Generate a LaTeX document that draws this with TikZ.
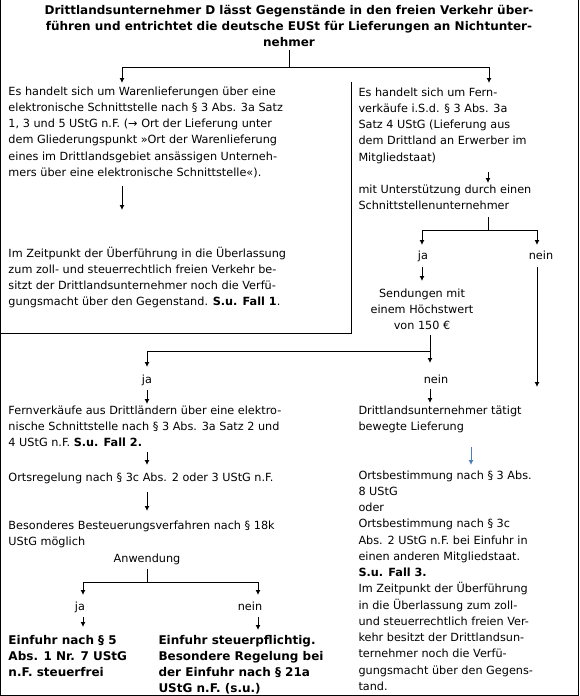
\documentclass[tikz,border=0pt]{standalone}
\usepackage{fontspec}
\setmainfont{DejaVu Sans}
\usepackage{xcolor}
\usetikzlibrary{arrows.meta}
\definecolor{tipblue}{RGB}{74,126,187}

\begin{document}
\begin{tikzpicture}[x=1pt,y=-1pt,line width=1pt,
  txt/.style={inner sep=0pt,align=left,anchor=base west,font=\fontsize{11.25}{16.25}\selectfont},
  bld/.style={txt,font=\fontsize{12}{16.25}\selectfont\bfseries},
  mid/.style={txt,align=center,anchor=base},
  arr/.style={-{Latex[length=5pt,width=5pt]}}]
\useasboundingbox (0,0) rectangle (579,696);

% frame
\draw (0.5,0) -- (0.5,695.5) -- (578.5,695.5) -- (578.5,0);
\draw (0.5,333.5) -- (351.5,333.5) -- (351.5,82);

% nodes sit on the baseline of their last line
\node[bld,align=center,anchor=base,inner ysep=3pt] (title) at (289,46.5)
  {Drittlandsunternehmer D lässt Gegenstände in den freien Verkehr über-\\
   führen und entrichtet die deutsche EUSt für Lieferungen an Nichtunter-\\
   nehmer};

% left column
\node[txt] (waren) at (8,176.25)
  {Es handelt sich um Warenlieferungen über eine\\
   elektronische Schnittstelle nach § 3 Abs. 3a Satz\\
   1, 3 und 5 UStG n.F. (→ Ort der Lieferung unter\\
   dem Gliederungspunkt »Ort der Warenlieferung\\
   eines im Drittlandsgebiet ansässigen Unterneh-\\
   mers über eine elektronische Schnittstelle«).};
\node[txt] (zeit) at (8,305.75)
  {Im Zeitpunkt der Überführung in die Überlassung\\
   zum zoll- und steuerrechtlich freien Verkehr be-\\
   sitzt der Drittlandsunternehmer noch die Verfü-\\
   gungsmacht über den Gegenstand. \textbf{S.u. Fall 1}.};

% right column
\node[txt] (fern) at (358,161)
  {Es handelt sich um Fern-\\
   verkäufe i.S.d. § 3 Abs. 3a\\
   Satz 4 UStG (Lieferung aus\\
   dem Drittland an Erwerber im\\
   Mitgliedstaat)};
\node[txt] (mitu) at (358,209.25)
  {mit Unterstützung durch einen\\
   Schnittstellenunternehmer};
\node[mid] (ja1) at (423,259) {ja};
\node[mid] (nein1) at (541,259) {nein};
\node[mid] (send) at (422,329.5) {Sendungen mit\\einem Höchstwert\\von 150 €};

% lower part
\node[mid] (ja2) at (147,383) {ja};
\node[mid] (nein2) at (436,383) {nein};
\node[txt] (fernv) at (8,446.5)
  {Fernverkäufe aus Drittländern über eine elektro-\\
   nische Schnittstelle nach § 3 Abs. 3a Satz 2 und\\
   4 UStG n.F. \textbf{S.u. Fall 2.}};
\node[txt] (ortsr) at (8,481) {Ortsregelung nach § 3c Abs. 2 oder 3 UStG n.F.};
\node[txt] (beso) at (8,545.25)
  {Besonderes Besteuerungsverfahren nach § 18k\\
   UStG möglich};
\node[mid,inner ysep=4pt] (anw) at (147,562) {Anwendung};
\node[mid] (ja3) at (80,610) {ja};
\node[mid] (nein3) at (250,610) {nein};
\node[bld] (einf1) at (8,676.5)
  {Einfuhr nach § 5\\
   Abs. 1 Nr. 7 UStG\\
   n.F. steuerfrei};
\node[bld] (einf2) at (158,692.75)
  {Einfuhr steuerpflichtig.\\
   Besondere Regelung bei\\
   der Einfuhr nach § 21a\\
   UStG n.F. (s.u.)};
\node[txt] (dritt) at (358,430.25)
  {Drittlandsunternehmer tätigt\\
   bewegte Lieferung};
\node[txt] (ortsb) at (358,690.25)
  {Ortsbestimmung nach § 3 Abs.\\
   8 UStG\\
   oder\\
   Ortsbestimmung nach § 3c\\
   Abs. 2 UStG n.F. bei Einfuhr in\\
   einen anderen Mitgliedstaat.\\
   \textbf{S.u. Fall 3.}\\
   Im Zeitpunkt der Überführung\\
   in die Überlassung zum zoll-\\
   und steuerrechtlich freien Ver-\\
   kehr besitzt der Drittlandsun-\\
   ternehmer noch die Verfü-\\
   gungsmacht über den Gegens-\\
   tand.};

% connector points
\coordinate (s1) at (289,67);
\coordinate (s1l) at (122,83);
\coordinate (s1r) at (489,83);
\coordinate (w2a) at (122,186);
\coordinate (w2b) at (122,210);
\coordinate (f2a) at (488,172);
\coordinate (f2b) at (488,183);
\coordinate (m1) at (488,217);
\coordinate (m2) at (488,230);
\coordinate (m2l) at (422,245);
\coordinate (m2r) at (537,245);
\coordinate (j1a) at (422,267);
\coordinate (j1b) at (422,281);
\coordinate (n1a) at (537,267);
\coordinate (n1b) at (537,387);
\coordinate (h1a) at (430,335);
\coordinate (h1b) at (430,351);
\coordinate (h1c) at (430,363);
\coordinate (h1l) at (147,367);
\coordinate (n2a) at (430,389);
\coordinate (n2b) at (430,403);
\coordinate (j2a) at (147,390);
\coordinate (j2b) at (147,404);
\coordinate (v2a) at (147,452);
\coordinate (v2b) at (147,465);
\coordinate (o1a) at (147,492);
\coordinate (o1b) at (147,511);
\coordinate (an2) at (147,582);
\coordinate (an2l) at (83,595);
\coordinate (an2r) at (258,595);
\coordinate (j3a) at (83,617);
\coordinate (j3b) at (83,627);
\coordinate (n3a) at (258,617);
\coordinate (n3b) at (258,630);
\coordinate (b1a) at (471,447);
\coordinate (b1b) at (471,465);

% connectors
\draw (title) -- (s1);
\draw[arr] (s1) -| (s1l);
\draw[arr] (s1) -| (s1r);
\draw[arr] (w2a) -- (w2b);
\draw[arr] (f2a) -- (f2b);
\draw (m1) -- (m2);
\draw[arr] (m2) -| (m2l);
\draw[arr] (m2) -| (m2r);
\draw[arr] (j1a) -- (j1b);
\draw[arr] (n1a) -- (n1b);
\draw[arr] (h1a) -- (h1c);
\draw[arr] (h1b) -| (h1l);
\draw[arr] (n2a) -- (n2b);
\draw[arr] (j2a) -- (j2b);
\draw[arr] (v2a) -- (v2b);
\draw[arr] (o1a) -- (o1b);
\draw (anw) -- (an2);
\draw[arr] (an2) -| (an2l);
\draw[arr] (an2) -| (an2r);
\draw[arr] (j3a) -- (j3b);
\draw[arr] (n3a) -- (n3b);
\draw[arr,tipblue] (b1a) -- (b1b);
\end{tikzpicture}
\end{document}
